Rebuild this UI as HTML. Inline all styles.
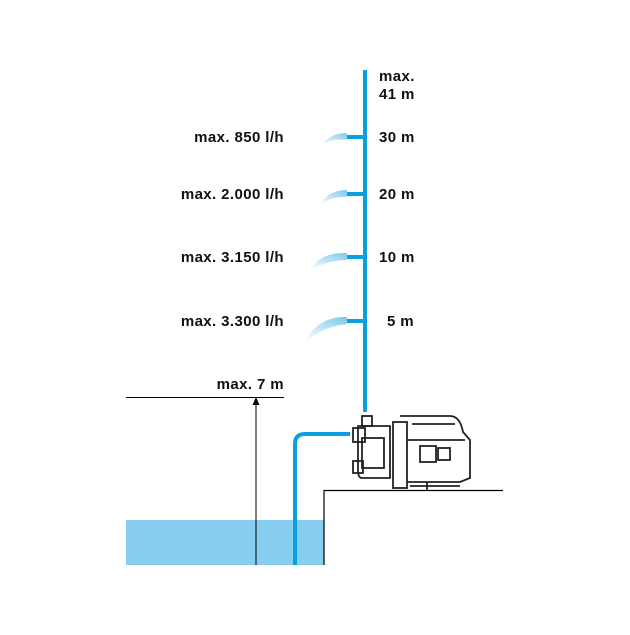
<!DOCTYPE html>
<html><head><style>
body{margin:0;background:#fff;}
svg text{font-family:"Liberation Sans",sans-serif;font-weight:bold;font-size:15px;letter-spacing:0.4px;fill:#111;}
</style></head><body>
<svg width="630" height="630" viewBox="0 0 630 630" xmlns="http://www.w3.org/2000/svg">
<defs>
<linearGradient id="sp" x1="1" y1="0" x2="0" y2="1">
<stop offset="0" stop-color="#7cc8ee"/><stop offset="1" stop-color="#7cc8ee" stop-opacity="0"/>
</linearGradient>
</defs>
<rect x="126" y="520" width="198" height="45" fill="#87cdef"/>
<line x1="126" y1="397.5" x2="284" y2="397.5" stroke="#000" stroke-width="1"/>
<line x1="256" y1="400" x2="256" y2="565" stroke="#000" stroke-width="1"/>
<path d="M252.5 405 L256 397 L259.5 405 Z" fill="#000"/>
<path d="M324 565 V490.5 H503" fill="none" stroke="#000" stroke-width="1.2"/>
<path d="M295 565 V444 Q295 434 305 434 H350" fill="none" stroke="#0aa0e0" stroke-width="4"/>
<line x1="365" y1="70" x2="365" y2="412" stroke="#0aa0e0" stroke-width="4"/>
<g stroke="#0aa0e0" stroke-width="4">
<line x1="347" y1="137" x2="365" y2="137"/>
<line x1="347" y1="194" x2="365" y2="194"/>
<line x1="347" y1="257" x2="365" y2="257"/>
<line x1="347" y1="321" x2="365" y2="321"/>
</g>
<g fill="url(#sp)">
<path d="M347 133 Q330 133 322 145 Q333 138 347 140 Z"/>
<path d="M347 190 Q328 190 320 205 Q332 196 347 197 Z"/>
<path d="M347 253 Q320 252 310 270 Q328 260 347 260 Z"/>
<path d="M347 317 Q318 316 305 342 Q324 326 347 324 Z"/>
</g>
<g fill="none" stroke="#222" stroke-width="1.8">
<rect x="362" y="416" width="10" height="10"/>
<rect x="353" y="428" width="12" height="14"/>
<rect x="353" y="461" width="10" height="12"/>
<path d="M358 426 H390 V478 H362 Q358 478 358 470 Z"/>
<rect x="362" y="438" width="22" height="30"/>
<rect x="393" y="422" width="14" height="66"/>
<path d="M400 416 H450 Q460 416 463 432 L470 440 V478 L460 482 H407"/>
<rect x="420" y="446" width="16" height="16"/>
<rect x="438" y="448" width="12" height="12"/>
<line x1="407" y1="440" x2="465" y2="440"/>
<line x1="412" y1="424" x2="455" y2="424"/>
<line x1="427" y1="482" x2="427" y2="490"/>
<line x1="410" y1="486" x2="460" y2="486"/>
</g>
<text x="284" y="142" text-anchor="end">max. 850 l/h</text>
<text x="284" y="199" text-anchor="end">max. 2.000 l/h</text>
<text x="284" y="262" text-anchor="end">max. 3.150 l/h</text>
<text x="284" y="326" text-anchor="end">max. 3.300 l/h</text>
<text x="284" y="389" text-anchor="end">max. 7 m</text>
<text x="379" y="81">max.</text>
<text x="379" y="99">41 m</text>
<text x="379" y="142">30 m</text>
<text x="379" y="199">20 m</text>
<text x="379" y="262">10 m</text>
<text x="387" y="326">5 m</text>
</svg>
</body></html>
